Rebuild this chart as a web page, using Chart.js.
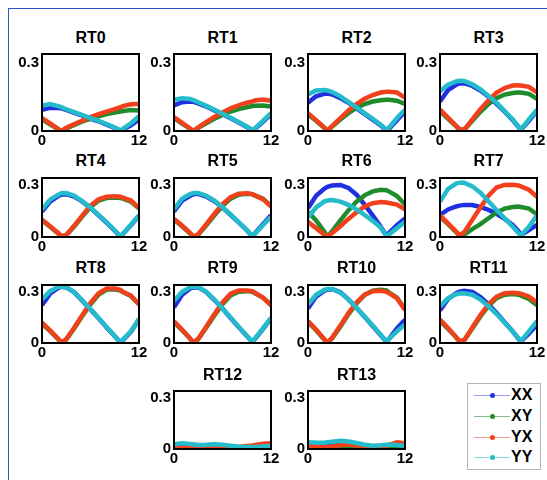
<!DOCTYPE html>
<html>
<head>
<meta charset="utf-8">
<script src="https://cdn.jsdelivr.net/npm/chart.js@4.4.1/dist/chart.umd.min.js"></script>
<style>
  html, body { margin: 0; padding: 0; background: #fff; }
  body { width: 547px; height: 480px; overflow: hidden; position: relative; font-family: "Liberation Sans", Arial, sans-serif; }
  #frame { position: absolute; left: 8px; top: 8px; width: 700px; height: 700px; border: 1px solid #2f52c4; }
  .panel { position: absolute; }
  .title { position: absolute; font-weight: bold; font-size: 16px; line-height: 18px; text-align: center; color: #000; }
  #legend { position: absolute; left: 467px; top: 383px; width: 72px; height: 85px; border: 1px solid #b4b4b4; background: #fff; }
  .lrow { position: absolute; left: 0; width: 72px; height: 18px; }
  .lline { position: absolute; left: 6px; top: 9px; width: 36px; height: 1px; }
  .ldot { position: absolute; left: 22px; top: 7px; width: 5px; height: 5px; border-radius: 50%; }
  .ltext { position: absolute; left: 43px; top: 0; font-weight: bold; font-size: 16px; line-height: 18px; color: #000; }
</style>
</head>
<body>
<div id="frame"></div>
<div id="panels"></div>
<div id="legend"></div>
<script>
// sample positions along x (shared by every panel)
const xs = [0, 1, 2, 2.4, 3, 4, 5, 6, 7, 8, 9, 9.7, 10, 11, 12];

const panelNames = ['RT0', 'RT1', 'RT2', 'RT3', 'RT4', 'RT5', 'RT6', 'RT7',
                    'RT8', 'RT9', 'RT10', 'RT11', 'RT12', 'RT13'];
const seriesNames = ['XX', 'XY', 'YX', 'YY'];
const xTicks = [0, 12];
const yTicks = [0, 0.3];

// one row per panel, values at xs
const xxValues = [
  [0.093,0.102,0.102,0.100,0.093,0.080,0.068,0.054,0.043,0.028,0.014,0.001,0.006,0.025,0.051],
  [0.113,0.127,0.130,0.129,0.122,0.108,0.091,0.074,0.056,0.037,0.018,0.002,0.009,0.040,0.074],
  [0.125,0.153,0.164,0.165,0.161,0.145,0.125,0.100,0.075,0.050,0.025,0.002,0.009,0.048,0.085],
  [0.130,0.181,0.204,0.210,0.211,0.199,0.179,0.151,0.120,0.085,0.048,0.017,0.005,0.045,0.088],
  [0.147,0.204,0.236,0.244,0.247,0.233,0.204,0.168,0.125,0.082,0.036,0.002,0.017,0.068,0.122],
  [0.147,0.210,0.238,0.247,0.249,0.233,0.206,0.170,0.127,0.084,0.039,0.003,0.020,0.074,0.125],
  [0.165,0.238,0.278,0.289,0.297,0.300,0.283,0.244,0.187,0.125,0.059,0.007,0.023,0.068,0.107],
  [0.127,0.159,0.176,0.181,0.185,0.184,0.173,0.156,0.134,0.104,0.070,0.034,0.011,0.040,0.070],
  [0.221,0.289,0.323,0.329,0.326,0.297,0.247,0.197,0.145,0.091,0.039,0.003,0.017,0.066,0.138],
  [0.210,0.283,0.320,0.326,0.326,0.298,0.252,0.202,0.147,0.093,0.041,0.005,0.023,0.082,0.145],
  [0.202,0.272,0.306,0.313,0.315,0.297,0.256,0.207,0.154,0.100,0.045,0.007,0.023,0.085,0.136],
  [0.190,0.258,0.292,0.301,0.306,0.300,0.270,0.227,0.176,0.122,0.068,0.025,0.009,0.054,0.108],
  [0.020,0.027,0.025,0.023,0.020,0.020,0.023,0.020,0.016,0.011,0.009,0.009,0.010,0.011,0.014],
  [0.032,0.028,0.029,0.032,0.034,0.037,0.034,0.027,0.019,0.015,0.016,0.018,0.019,0.018,0.016]
];
const xyValues = [
  [0.051,0.029,0.007,0.000,0.011,0.027,0.042,0.054,0.065,0.075,0.082,0.086,0.088,0.093,0.091],
  [0.057,0.032,0.009,0.000,0.014,0.034,0.054,0.071,0.086,0.097,0.105,0.110,0.111,0.113,0.108],
  [0.074,0.045,0.014,0.000,0.020,0.051,0.079,0.102,0.119,0.130,0.136,0.138,0.138,0.134,0.119],
  [0.088,0.054,0.020,0.007,0.005,0.045,0.085,0.119,0.145,0.161,0.168,0.170,0.170,0.164,0.142],
  [0.096,0.059,0.020,0.005,0.011,0.062,0.119,0.172,0.210,0.224,0.227,0.224,0.221,0.204,0.164],
  [0.100,0.062,0.020,0.001,0.014,0.068,0.125,0.179,0.221,0.244,0.249,0.246,0.240,0.221,0.179],
  [0.145,0.096,0.032,0.002,0.034,0.096,0.153,0.204,0.240,0.263,0.272,0.270,0.263,0.236,0.187],
  [0.117,0.074,0.028,0.009,0.014,0.045,0.074,0.108,0.142,0.164,0.173,0.175,0.173,0.164,0.130],
  [0.113,0.070,0.023,0.001,0.020,0.086,0.159,0.227,0.283,0.313,0.315,0.308,0.298,0.275,0.227],
  [0.122,0.075,0.025,0.001,0.023,0.091,0.161,0.227,0.278,0.300,0.304,0.300,0.292,0.266,0.224],
  [0.122,0.075,0.020,0.001,0.028,0.096,0.168,0.232,0.281,0.306,0.312,0.308,0.297,0.266,0.198],
  [0.130,0.082,0.032,0.009,0.016,0.085,0.156,0.218,0.263,0.283,0.287,0.283,0.278,0.258,0.221],
  [0.009,0.006,0.003,0.003,0.005,0.007,0.009,0.008,0.007,0.007,0.009,0.010,0.011,0.014,0.014],
  [0.014,0.010,0.008,0.008,0.010,0.016,0.020,0.016,0.010,0.007,0.008,0.010,0.012,0.018,0.016]
];
const yxValues = [
  [0.057,0.034,0.009,0.000,0.014,0.031,0.046,0.061,0.074,0.086,0.097,0.105,0.110,0.118,0.119],
  [0.062,0.036,0.011,0.000,0.016,0.040,0.062,0.082,0.100,0.113,0.125,0.131,0.135,0.139,0.134],
  [0.079,0.048,0.016,0.002,0.023,0.057,0.091,0.119,0.142,0.159,0.170,0.173,0.173,0.170,0.147],
  [0.094,0.059,0.023,0.009,0.005,0.051,0.096,0.136,0.170,0.190,0.201,0.202,0.201,0.195,0.170],
  [0.100,0.062,0.023,0.006,0.011,0.066,0.125,0.181,0.218,0.232,0.235,0.232,0.227,0.210,0.168],
  [0.104,0.066,0.023,0.002,0.016,0.074,0.134,0.190,0.230,0.249,0.252,0.247,0.240,0.218,0.176],
  [0.087,0.051,0.014,0.002,0.023,0.062,0.104,0.142,0.176,0.195,0.201,0.199,0.196,0.187,0.159],
  [0.125,0.079,0.032,0.011,0.028,0.099,0.170,0.238,0.286,0.300,0.301,0.297,0.292,0.272,0.232],
  [0.119,0.074,0.025,0.002,0.023,0.091,0.164,0.236,0.292,0.320,0.320,0.312,0.300,0.278,0.227],
  [0.127,0.079,0.027,0.002,0.025,0.096,0.170,0.238,0.289,0.308,0.308,0.304,0.295,0.266,0.221],
  [0.128,0.079,0.023,0.002,0.032,0.102,0.176,0.238,0.283,0.304,0.306,0.300,0.292,0.263,0.193],
  [0.138,0.088,0.034,0.011,0.017,0.091,0.164,0.227,0.272,0.292,0.295,0.292,0.289,0.272,0.238],
  [0.011,0.008,0.006,0.006,0.007,0.011,0.016,0.014,0.011,0.012,0.017,0.020,0.024,0.031,0.034],
  [0.020,0.016,0.011,0.011,0.015,0.023,0.027,0.020,0.012,0.009,0.011,0.017,0.024,0.039,0.034]
];
const yyValues = [
  [0.113,0.119,0.110,0.105,0.096,0.083,0.070,0.057,0.045,0.031,0.015,0.002,0.009,0.034,0.065],
  [0.138,0.145,0.141,0.136,0.127,0.111,0.094,0.076,0.058,0.040,0.020,0.005,0.011,0.045,0.079],
  [0.161,0.179,0.181,0.179,0.172,0.153,0.129,0.104,0.079,0.054,0.028,0.005,0.014,0.057,0.094],
  [0.176,0.204,0.219,0.222,0.221,0.206,0.184,0.155,0.125,0.088,0.051,0.020,0.007,0.051,0.094],
  [0.159,0.215,0.244,0.252,0.253,0.238,0.206,0.170,0.127,0.084,0.039,0.002,0.017,0.070,0.125],
  [0.161,0.221,0.247,0.254,0.254,0.238,0.210,0.172,0.130,0.086,0.041,0.005,0.017,0.068,0.116],
  [0.113,0.170,0.204,0.211,0.213,0.204,0.185,0.159,0.127,0.093,0.054,0.005,0.014,0.051,0.087],
  [0.204,0.278,0.308,0.313,0.313,0.292,0.255,0.206,0.156,0.108,0.059,0.023,0.009,0.059,0.125],
  [0.255,0.304,0.329,0.331,0.326,0.297,0.249,0.199,0.147,0.093,0.041,0.005,0.020,0.068,0.142],
  [0.247,0.300,0.326,0.331,0.329,0.300,0.255,0.204,0.150,0.096,0.043,0.007,0.025,0.085,0.147],
  [0.227,0.283,0.311,0.316,0.316,0.297,0.256,0.207,0.155,0.102,0.048,0.009,0.023,0.068,0.109],
  [0.215,0.263,0.286,0.290,0.292,0.283,0.255,0.215,0.170,0.119,0.068,0.028,0.011,0.068,0.128],
  [0.027,0.034,0.029,0.027,0.024,0.025,0.028,0.025,0.019,0.014,0.011,0.011,0.012,0.015,0.018],
  [0.040,0.036,0.037,0.040,0.043,0.048,0.044,0.035,0.025,0.019,0.022,0.025,0.026,0.024,0.019]
];
const seriesValues = [xxValues, xyValues, yxValues, yyValues];

const lineColors = ['#2030e0', '#1f8c2c', '#f2401c', '#24bccb'];
const legendLineColors = ['#9a9af2', '#86c086', '#f59a8a', '#80dde0'];

// layout of the grid of panels (plot box in page pixels)
const colLeft = [42, 174, 308, 440];
const rowTop = [54, 178, 285, 391];
const rowHeight = [77, 59, 58, 58];
const titleMid = [38, 161, 268, 375];
const boxW = 97;
const PAD_L = 40, PAD_R = 14, PAD_T = 12, PAD_B = 20;
const Y_MAX = 0.34;
const tickFont = { family: '"Liberation Sans", Arial, sans-serif', size: 15, weight: 'bold' };

const boxPlugin = {
  id: 'boxFrame',
  afterDatasetsDraw(chart) {
    const a = chart.chartArea;
    const ctx = chart.ctx;
    ctx.save();
    ctx.strokeStyle = '#000';
    ctx.lineWidth = 2;
    ctx.strokeRect(a.left, a.top, a.right - a.left, a.bottom - a.top);
    ctx.restore();
  }
};

function slotOf(i) {
  if (i < 12) return { row: Math.floor(i / 4), col: i % 4 };
  return { row: 3, col: i - 11 };
}

const holder = document.getElementById('panels');

panelNames.forEach(function(name, i) {
  const slot = slotOf(i);
  const left = colLeft[slot.col];
  const top = rowTop[slot.row];
  const h = rowHeight[slot.row];

  const title = document.createElement('div');
  title.className = 'title';
  title.textContent = name;
  title.style.left = left + 'px';
  title.style.width = boxW + 'px';
  title.style.top = (titleMid[slot.row] - 9) + 'px';
  holder.appendChild(title);

  const canvas = document.createElement('canvas');
  canvas.className = 'panel';
  const cw = boxW + PAD_L + PAD_R;
  const ch = h + PAD_T + PAD_B;
  canvas.width = cw;
  canvas.height = ch;
  canvas.style.width = cw + 'px';
  canvas.style.height = ch + 'px';
  canvas.style.left = (left - PAD_L) + 'px';
  canvas.style.top = (top - PAD_T) + 'px';
  holder.appendChild(canvas);

  new Chart(canvas.getContext('2d'), {
    type: 'line',
    data: {
      datasets: seriesNames.map(function(label, s) {
        return {
          label: label,
          data: xs.map(function(x, k) { return { x: x, y: seriesValues[s][i][k] }; }),
          borderColor: lineColors[s],
          backgroundColor: lineColors[s],
          borderWidth: 4.5,
          pointRadius: 0,
          tension: 0,
          fill: false,
          clip: 0,
          order: 4 - s
        };
      })
    },
    options: {
      responsive: false,
      animation: false,
      devicePixelRatio: 1,
      layout: { padding: { top: PAD_T, right: PAD_R, left: 0, bottom: 0 } },
      plugins: { legend: { display: false }, tooltip: { enabled: false }, title: { display: false } },
      scales: {
        x: {
          type: 'linear', min: 0, max: 12,
          grid: { display: false, drawTicks: false }, border: { display: false },
          afterBuildTicks: function(scale) { scale.ticks = xTicks.map(function(v) { return { value: v }; }); },
          afterFit: function(scale) { scale.height = PAD_B; },
          ticks: { color: '#000', font: tickFont, padding: 1, maxRotation: 0, autoSkip: false }
        },
        y: {
          type: 'linear', min: 0, max: Y_MAX,
          grid: { display: false, drawTicks: false }, border: { display: false },
          afterBuildTicks: function(scale) { scale.ticks = yTicks.map(function(v) { return { value: v }; }); },
          afterFit: function(scale) { scale.width = PAD_L; },
          ticks: { color: '#000', font: tickFont, padding: 3, autoSkip: false,
                   callback: function(v) { return String(v); } }
        }
      }
    },
    plugins: [boxPlugin]
  });
});

// legend box
const legend = document.getElementById('legend');
seriesNames.forEach(function(name, s) {
  const row = document.createElement('div');
  row.className = 'lrow';
  row.style.top = (2 + s * 20.8) + 'px';
  row.innerHTML = '<div class="lline" style="background:' + legendLineColors[s] + '"></div>' +
                  '<div class="ldot" style="background:' + lineColors[s] + '"></div>' +
                  '<div class="ltext">' + name + '</div>';
  legend.appendChild(row);
});
</script>
</body>
</html>
